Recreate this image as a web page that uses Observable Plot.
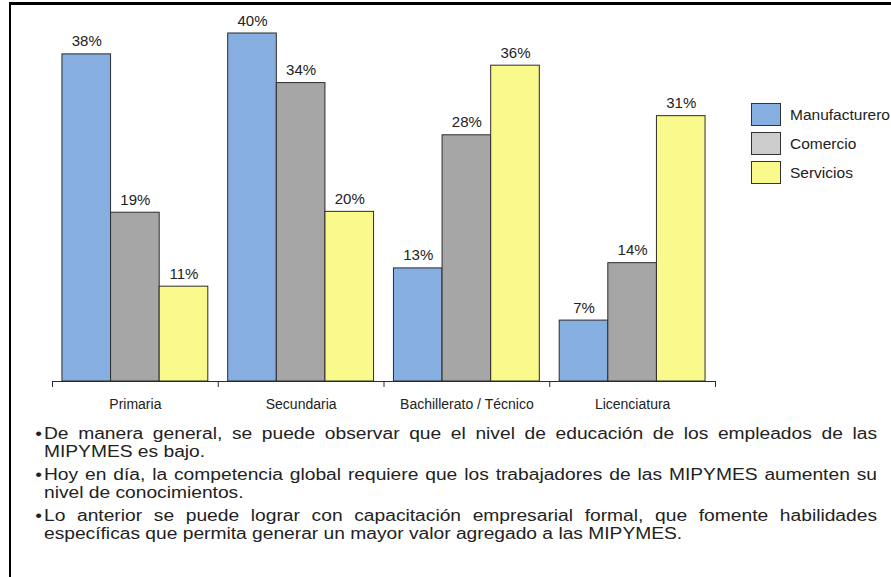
<!DOCTYPE html>
<html>
<head>
<meta charset="utf-8">
<script src="https://cdn.jsdelivr.net/npm/d3@7"></script>
<script src="https://cdn.jsdelivr.net/npm/@observablehq/plot@0.6"></script>
<style>
  html, body { margin: 0; padding: 0; background: #fff; width: 891px; height: 577px; overflow: hidden; }
  body { position: relative; font-family: "Liberation Sans", Arial, sans-serif; color: #222; }
  #frame { position: absolute; left: 9px; top: 2px; width: 1000px; height: 700px; border-top: 3px solid #000; border-left: 2px solid #000; }
  #chart { position: absolute; left: 0; top: 0; }
  #legend { position: absolute; left: 751px; top: 103px; font-size: 15.5px; white-space: nowrap; }
  .item { display: flex; align-items: center; height: 23px; margin-bottom: 6px; }
  .sw { width: 28px; height: 21px; border: 1px solid #333; margin-right: 9px; }
  #notes { position: absolute; left: 28px; top: 425px; width: 707.5px; margin: 0; padding: 0; list-style: none; font-size: 16px; line-height: 18px; color: #222; transform: scaleX(1.2); transform-origin: 0 0; }
  #notes li { position: relative; padding-left: 13.3px; text-align: justify; margin-bottom: 5px; }
  #notes li::before { content: "•"; position: absolute; left: 6px; top: 0; }
</style>
</head>
<body>
<div id="frame"></div>
<div id="chart"></div>
<div id="legend"></div>
<ul id="notes"></ul>
<script>
// ---- data ----
const categories = ["Primaria", "Secundaria", "Bachillerato / Técnico", "Licenciatura"];
const series = ["Manufacturero", "Comercio", "Servicios"];
const manufacturero = [37.6, 40.0, 13.0, 7.0];
const comercio = [19.4, 34.3, 28.3, 13.6];
const servicios = [10.9, 19.5, 36.3, 30.5];
const manufactureroLabels = ["38%", "40%", "13%", "7%"];
const comercioLabels = ["19%", "34%", "28%", "14%"];
const serviciosLabels = ["11%", "20%", "36%", "31%"];
const barColors = ["#86AEE1", "#A6A6A6", "#F9F98C"];
const legendColors = ["#86AEE1", "#CCCCCC", "#F9F98C"];
const notes = [
  "De manera general, se puede observar que el nivel de educación de los empleados de las MIPYMES es bajo.",
  "Hoy en día, la competencia global requiere que los trabajadores de las MIPYMES aumenten su nivel de conocimientos.",
  "Lo anterior se puede lograr con capacitación empresarial formal, que fomente habilidades específicas que permita generar un mayor valor agregado a las MIPYMES."
];

// ---- table ----
const valuesBySeries = [manufacturero, comercio, servicios];
const labelsBySeries = [manufactureroLabels, comercioLabels, serviciosLabels];
const groupPad = 0.06;
const barW = (1 - 2 * groupPad) / series.length;
const rows = [];
categories.forEach((c, ci) => {
  series.forEach((s, si) => {
    const x1 = ci + groupPad + si * barW;
    rows.push({category: c, series: s, value: valuesBySeries[si][ci], label: labelsBySeries[si][ci], x1, x2: x1 + barW, xm: x1 + barW / 2});
  });
});

const chart = Plot.plot({
  width: 891,
  height: 420,
  marginLeft: 52,
  marginRight: 176,
  marginTop: 33,
  marginBottom: 39,
  style: {fontFamily: "'Liberation Sans', Arial, sans-serif", fontSize: "14px", color: "#222", background: "transparent", overflow: "visible"},
  x: {domain: [0, categories.length], axis: null},
  y: {domain: [0, 40], axis: null},
  color: {domain: series, range: barColors},
  marks: [
    Plot.rectY(rows, {x1: "x1", x2: "x2", y: "value", fill: "series", stroke: "#2b2b2b", strokeWidth: 1}),
    Plot.text(rows, {x: "xm", y: "value", text: "label", dy: -8, lineAnchor: "bottom", fontSize: 15, fill: "#222"}),
    Plot.ruleY([0], {stroke: "#2b2b2b", strokeWidth: 1.2}),
    Plot.axisX(d3.range(categories.length + 1), {tickSize: 6, tickFormat: () => "", stroke: "#2b2b2b"}),
    Plot.axisX(categories.map((c, i) => i + 0.5), {tickSize: 0, tickPadding: 18, tickFormat: d => categories[Math.floor(d)], fontSize: 14, fill: "#222"})
  ]
});
document.getElementById("chart").appendChild(chart);

// legend
const legend = document.getElementById("legend");
series.forEach((s, i) => {
  const item = document.createElement("div");
  item.className = "item";
  const sw = document.createElement("div");
  sw.className = "sw";
  sw.style.background = legendColors[i];
  const t = document.createElement("span");
  t.textContent = s;
  item.appendChild(sw);
  item.appendChild(t);
  legend.appendChild(item);
});

// notes
const ul = document.getElementById("notes");
notes.forEach(n => {
  const li = document.createElement("li");
  li.textContent = n;
  ul.appendChild(li);
});
</script>
</body>
</html>
